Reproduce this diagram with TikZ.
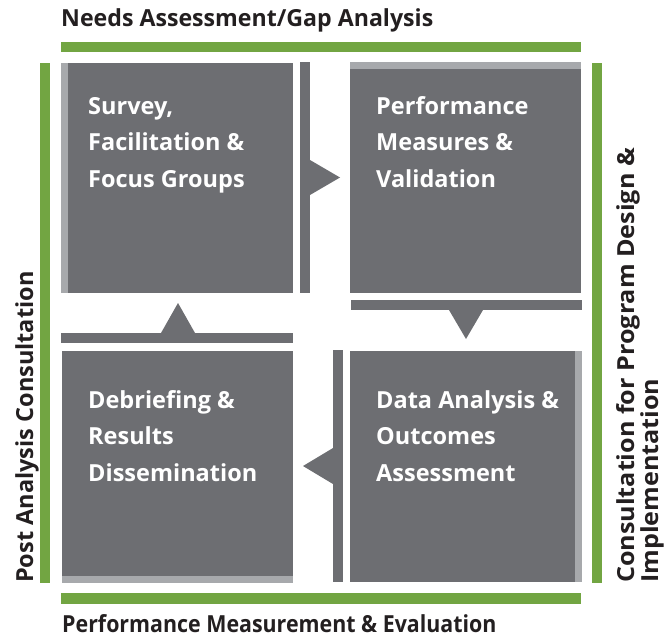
\documentclass[tikz,border=0pt]{standalone}
\usepackage{fontspec}
\setmainfont{Open Sans}
\definecolor{boxgray}{RGB}{109,110,114}
\definecolor{edgegray}{RGB}{167,169,172}
\definecolor{leaf}{RGB}{114,165,66}
\definecolor{ink}{RGB}{35,31,32}
\begin{document}
\begin{tikzpicture}[x=1pt,y=-1pt,
  panel/.style={fill=boxgray, draw=none, inner sep=0pt, outer sep=0pt, anchor=north west},
  paneltext/.style={text=white, font=\bfseries\fontsize{23.5}{36.5}\selectfont, align=left, anchor=north west, inner sep=0pt},
  sidetext/.style={text=ink, font=\bfseries\fontsize{23.5}{28}\selectfont, inner sep=0pt},
  greenbar/.style={fill=leaf},
  linkbar/.style={fill=boxgray}]
\useasboundingbox (0,0) rectangle (664,637);

% green frame bars
\fill[greenbar] (61,42) rectangle (581,52);
\fill[greenbar] (61,593) rectangle (581,604);
\fill[greenbar] (40,63) rectangle (50,583);
\fill[greenbar] (592,63) rectangle (602,583);

% panels
\node[panel, minimum width=232pt, minimum height=230pt] (b1) at (61,63) {};
\node[panel, minimum width=231pt, minimum height=231pt] (b2) at (350,62) {};
\node[panel, minimum width=231pt, minimum height=232pt] (b3) at (62,351) {};
\node[panel, minimum width=232pt, minimum height=231pt] (b4) at (350,351) {};

% light edges
\fill[edgegray] (b1.north west) rectangle ([xshift=7pt]b1.south west);
\fill[edgegray] (b2.north west) rectangle ([yshift=-7pt]b2.north east);
\fill[edgegray] ([yshift=7pt]b3.south west) rectangle (b3.south east);
\fill[edgegray] ([xshift=-7pt]b4.north east) rectangle (b4.south east);

% link bars with arrowheads
\fill[linkbar] (300,62) rectangle (310,293);
\fill[linkbar] (310,160) -- (340,177.5) -- (310,195) -- cycle;

\fill[linkbar] (351,300) rectangle (582,310);
\fill[linkbar] (449,310) -- (466,339) -- (483,310) -- cycle;

\fill[linkbar] (333,350) rectangle (343,582);
\fill[linkbar] (333,448) -- (303,466) -- (333,484) -- cycle;

\fill[linkbar] (61,333) rectangle (293,343);
\fill[linkbar] (161,333) -- (178,303) -- (195,333) -- cycle;

% panel texts
\node[paneltext] (t1) at (88,97) {Survey,\\Facilitation \&\\Focus Groups};
\node[paneltext] (t2) at (376,96) {Performance\\Measures \&\\Validation};
\node[paneltext] (t3) at (88,390) {Debriefing \&\\Results\\Dissemination};
\node[paneltext] (t4) at (376,390) {Data Analysis \&\\Outcomes\\Assessment};

% side labels
\node[sidetext, anchor=base west] (top) at (61,27) {\scalebox{0.985}[1]{Needs Assessment/Gap Analysis}};
\node[sidetext, anchor=base west] (bottom) at (62,632) {\scalebox{0.91}[1]{Performance Measurement \& Evaluation}};
\node[sidetext, anchor=base west, rotate=90] (left) at (33,583) {Post Analysis Consultation};
\node[sidetext, anchor=base west, rotate=90] (right1) at (634,583) {\scalebox{1.07}[1]{Consultation for Program Design \&}};
\node[sidetext, anchor=base west, rotate=90] (right2) at (658,583) {\scalebox{1.07}[1]{Implementation}};
\end{tikzpicture}
\end{document}
